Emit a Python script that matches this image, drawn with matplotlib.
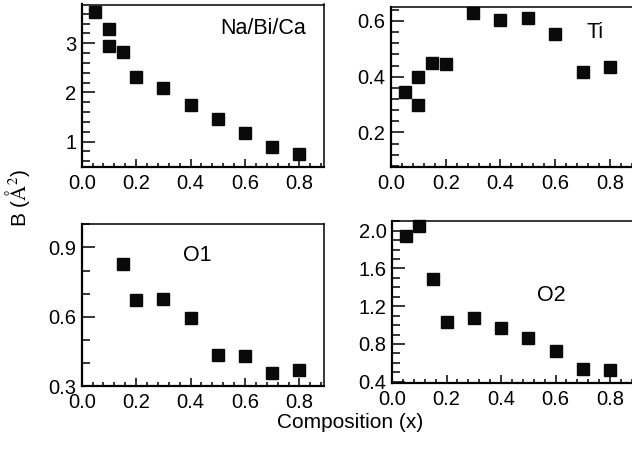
import numpy as np
import matplotlib
matplotlib.use("Agg")
import matplotlib.pyplot as plt
from matplotlib.ticker import MultipleLocator

plt.rcParams['font.family'] = ['Liberation Sans', 'DejaVu Sans']
plt.rcParams['mathtext.fontset'] = 'stix'

# data
x_nbc = [0.05, 0.1, 0.1, 0.15, 0.2, 0.3, 0.4, 0.5, 0.6, 0.7, 0.8]
b_nbc = [3.64, 3.29, 2.95, 2.82, 2.32, 2.09, 1.75, 1.46, 1.17, 0.90, 0.75]

x_ti = [0.05, 0.1, 0.1, 0.15, 0.2, 0.3, 0.4, 0.5, 0.6, 0.7, 0.8]
b_ti = [0.344, 0.400, 0.298, 0.448, 0.446, 0.628, 0.604, 0.610, 0.552, 0.416, 0.436]

x_o1 = [0.15, 0.2, 0.3, 0.4, 0.5, 0.6, 0.7, 0.8]
b_o1 = [0.829, 0.673, 0.677, 0.593, 0.434, 0.432, 0.358, 0.368]

x_o2 = [0.05, 0.1, 0.15, 0.2, 0.3, 0.4, 0.5, 0.6, 0.7, 0.8]
b_o2 = [1.94, 2.05, 1.49, 1.03, 1.08, 0.97, 0.86, 0.73, 0.53, 0.52]

W, H = 632, 455
fig = plt.figure(figsize=(W / 100, H / 100), dpi=100)


def px_axes(left, top, right, bottom):
    return fig.add_axes([left / W, 1 - bottom / H, (right - left) / W, (bottom - top) / H])


def style(ax, ylim, ymaj, ymin):
    ax.set_xlim(0, 0.89)
    ax.set_ylim(*ylim)
    ax.xaxis.set_major_locator(MultipleLocator(0.2))
    ax.xaxis.set_minor_locator(MultipleLocator(0.04))
    ax.yaxis.set_major_locator(MultipleLocator(ymaj))
    ax.yaxis.set_minor_locator(MultipleLocator(ymin))
    ax.xaxis.set_major_formatter(matplotlib.ticker.FormatStrFormatter('%.1f'))
    ax.tick_params(axis='both', which='both', direction='in', top=False, right=False,
                   labelsize=14.5, width=1.1, colors='black')
    ax.tick_params(axis='x', which='major', length=6, pad=5)
    ax.tick_params(axis='x', which='minor', length=3)
    ax.tick_params(axis='y', which='major', length=9, pad=4)
    ax.tick_params(axis='y', which='minor', length=5.5)
    for s in ax.spines.values():
        s.set_linewidth(1.1)
    ax.spines['left'].set_linewidth(1.6)
    ax.spines['bottom'].set_linewidth(1.6)


mk = dict(marker='s', linestyle='none', color='#0a0a0a', markersize=9.2, clip_on=False)

ax1 = px_axes(81.7, 4.5, 324, 166.7)
ax1.plot(x_nbc, b_nbc, **mk)
style(ax1, (0.49, 3.79), 1, 0.2)
ax1.text(0.666, 3.31, 'Na/Bi/Ca', fontsize=15.5, ha='center', va='center')

ax2 = px_axes(391, 6.7, 634.6, 166.7)
ax2.plot(x_ti, b_ti, **mk)
style(ax2, (0.077, 0.651), 0.2, 0.04)
ax2.yaxis.set_major_formatter(matplotlib.ticker.FormatStrFormatter('%.1f'))
ax2.text(0.745, 0.56, 'Ti', fontsize=15.5, ha='center', va='center')

ax3 = px_axes(81.7, 224.3, 324, 386)
ax3.plot(x_o1, b_o1, **mk)
style(ax3, (0.3, 1.0), 0.3, 0.1)
ax3.yaxis.set_major_formatter(matplotlib.ticker.FormatStrFormatter('%.1f'))
ax3.text(0.424, 0.864, 'O1', fontsize=15.5, ha='center', va='center')

ax4 = px_axes(392, 220.7, 634.6, 382.7)
ax4.plot(x_o2, b_o2, **mk)
style(ax4, (0.39, 2.106), 0.4, 0.1)
ax4.yaxis.set_major_formatter(matplotlib.ticker.FormatStrFormatter('%.1f'))
ax4.text(0.585, 1.316, 'O2', fontsize=15.5, ha='center', va='center')

fig.text(18 / W, 1 - 198 / H, r'B ($\mathrm{\AA}^2$)', rotation=90, ha='center', va='center',
         fontsize=15)
fig.text(350 / W, 1 - 423 / H, 'Composition (x)', ha='center', va='center', fontsize=15)

fig.savefig('out.png', dpi=100)
